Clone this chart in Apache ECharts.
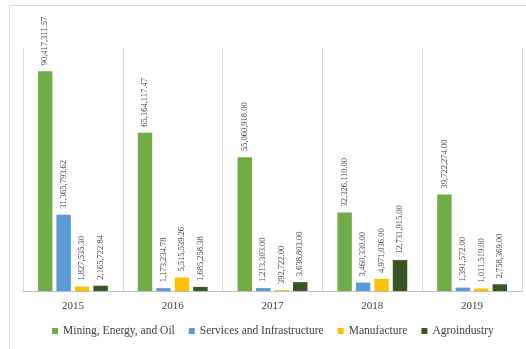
<!DOCTYPE html>
<html><head><meta charset="utf-8">
<script src="https://cdn.jsdelivr.net/npm/echarts@6/dist/echarts.min.js"></script>
<style>html,body{margin:0;padding:0;background:#fff}#c{width:526px;height:349px}</style>
</head><body><div id="c"></div>
<script>
const years = ['2015','2016','2017','2018','2019'];
const mining = [90417311.57, 65164117.47, 55060918.00, 32326110.00, 39722274.00];
const services = [31365793.62, 1173234.78, 1213303.00, 3460330.00, 1391572.00];
const manufacture = [1827535.30, 5515539.26, 392722.00, 4971036.00, 1011519.00];
const agro = [2165722.84, 1685258.38, 3638803.00, 12731915.00, 2758369.00];
const names = ['Mining, Energy, and Oil','Services and Infrastructure','Manufacture','Agroindustry'];
const colors = ['#70AD47','#5B9BD5','#FFC000','#375623'];
const font = 'Liberation Serif';
function fmt(v){return v.toLocaleString('en-US',{minimumFractionDigits:2,maximumFractionDigits:2});}
const chart = echarts.init(document.getElementById('c'));
const mk = (name, data, color) => ({
  name, type:'bar', data, itemStyle:{color},
  barGap:'28%', barCategoryGap:'30%',
  label:{show:true, position:'top', rotate:90, align:'left', verticalAlign:'middle', distance:6,
    fontFamily:font, fontSize:8.5, color:'#404040', formatter:p=>fmt(p.value)}
});
chart.setOption({
  animation:false,
  textStyle:{fontFamily:font},
  graphic:[{type:'rect', shape:{x:9.5,y:5.5,width:530,height:360}, style:{fill:'none', stroke:'#d9d9d9', lineWidth:1}}],
  grid:{left:23, right:4, top:48, bottom:58},
  legend:{top:320, left:47, itemWidth:6, itemHeight:6, itemGap:14, icon:'rect',
    textStyle:{fontFamily:font, fontSize:11.5, color:'#404040'}, data:names},
  xAxis:{type:'category', data:years,
    axisLine:{lineStyle:{color:'#bfbfbf'}}, axisTick:{show:false},
    splitLine:{show:true, lineStyle:{color:'#d9d9d9'}},
    axisLabel:{fontFamily:font, fontSize:11, color:'#404040', margin:10}},
  yAxis:{type:'value', min:0, max:100000000, show:false, splitLine:{show:false}},
  series:[mk(names[0],mining,colors[0]), mk(names[1],services,colors[1]), mk(names[2],manufacture,colors[2]), mk(names[3],agro,colors[3])]
});
</script></body></html>
